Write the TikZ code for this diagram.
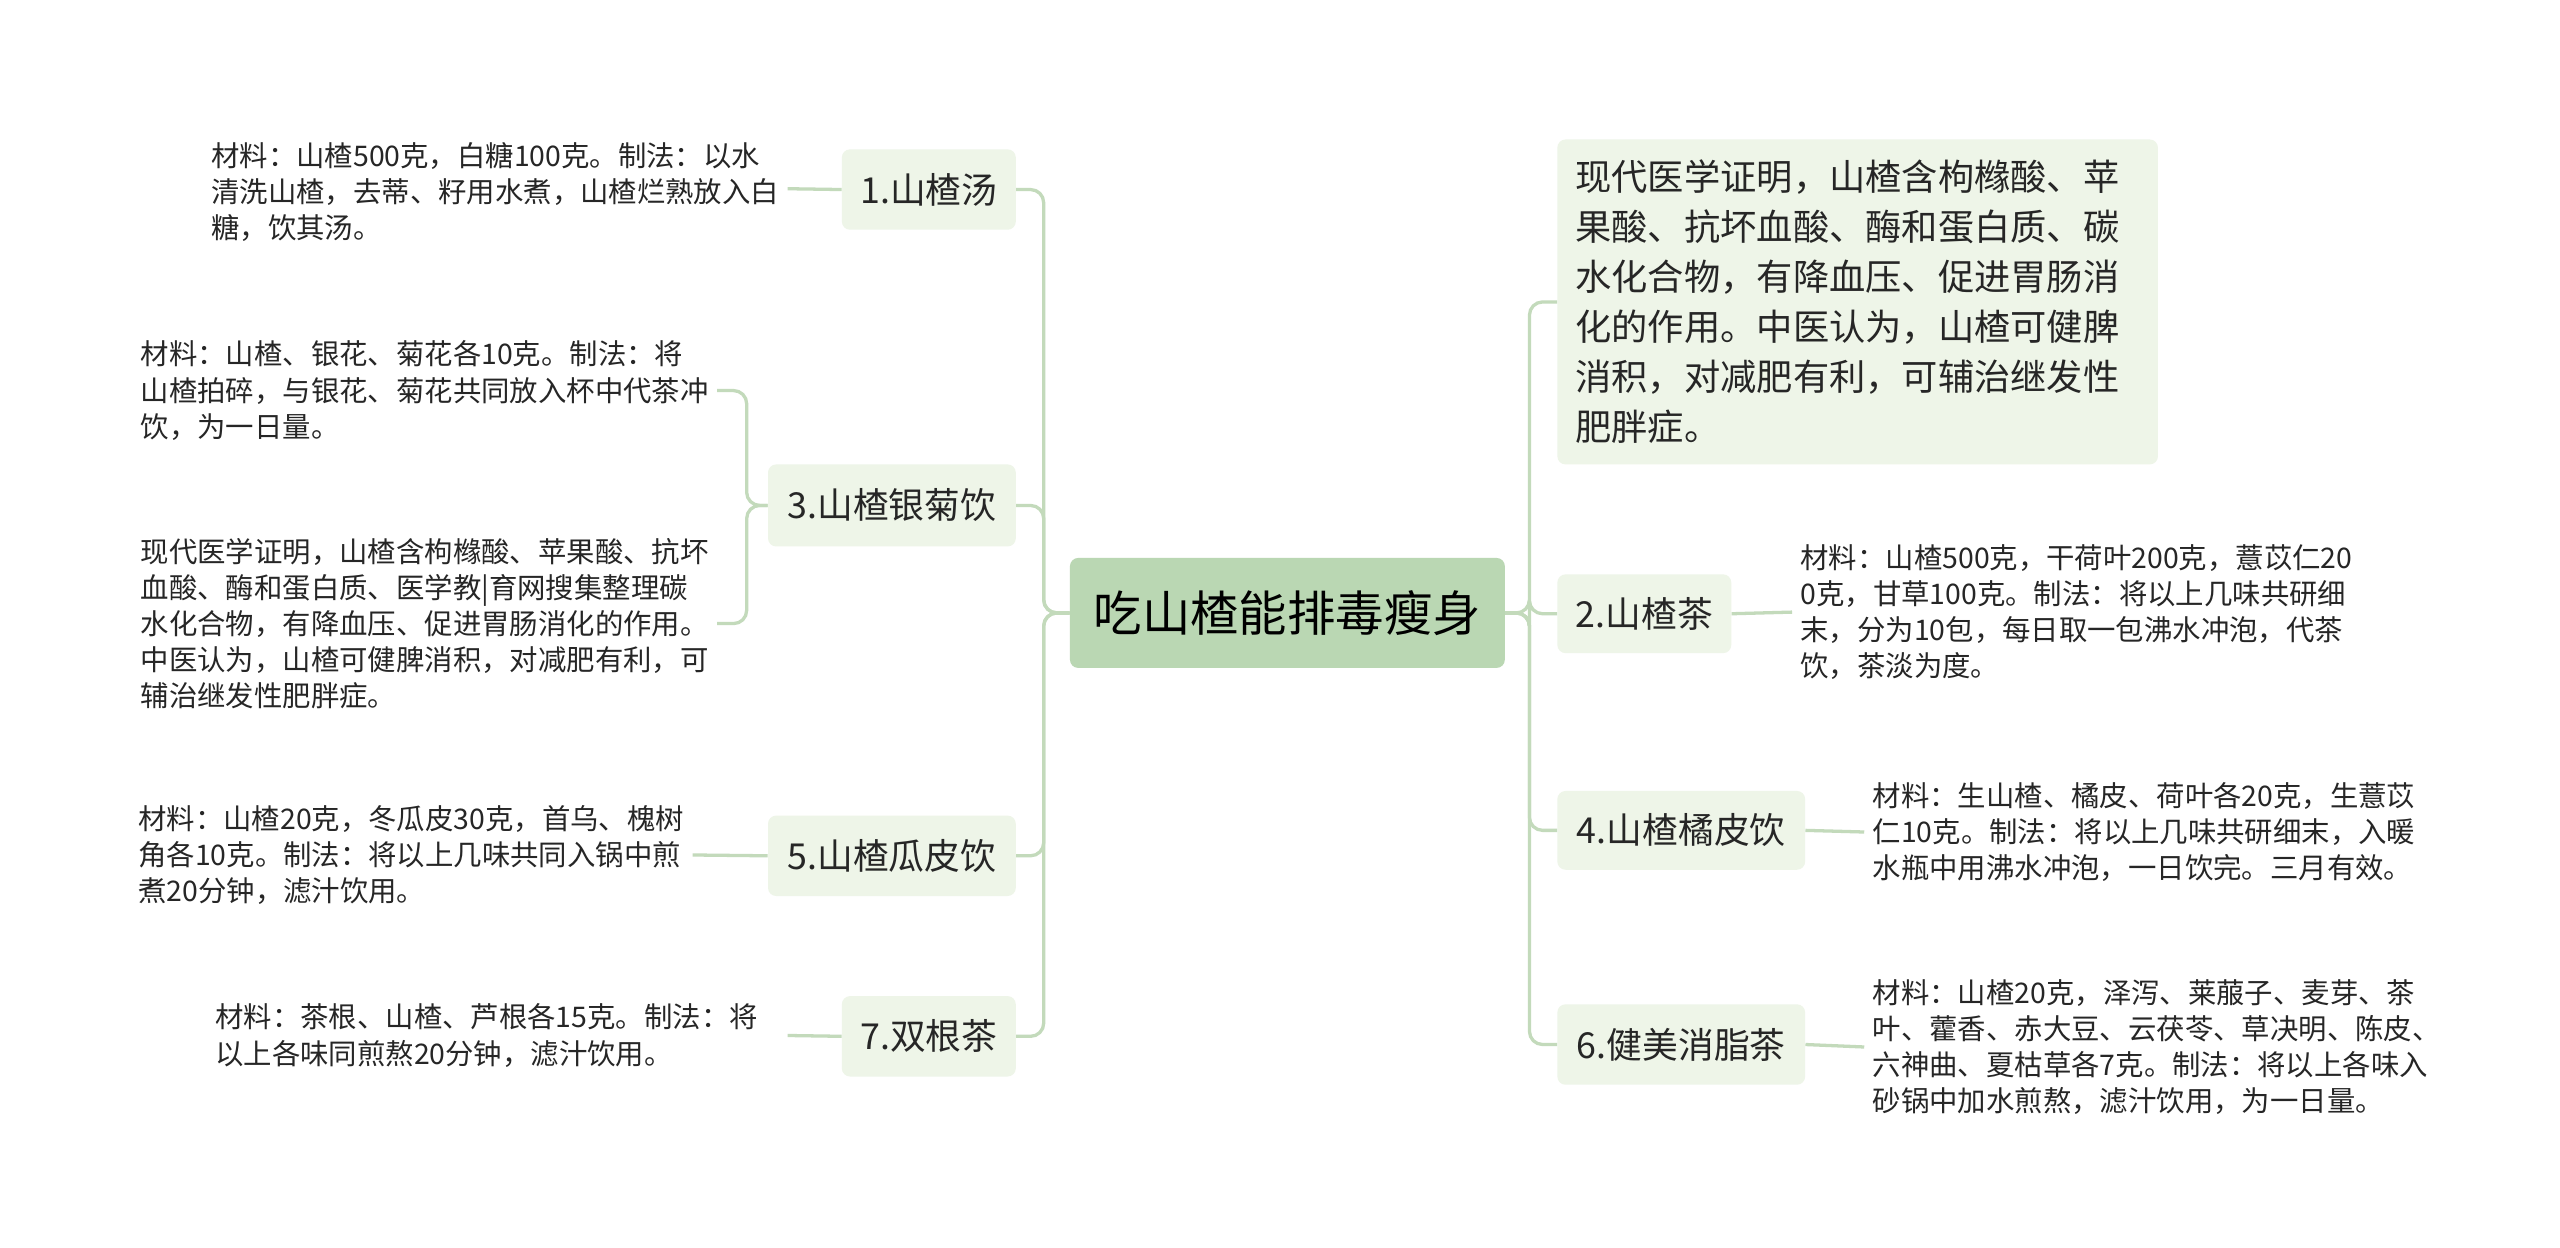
\documentclass[tikz,border=0pt]{standalone}
\usepackage{fontspec}
\setmainfont{Noto Sans CJK SC}
\begin{document}
\begin{tikzpicture}[x=1pt,y=-1pt,
 line/.style={draw=lc,line width=2pt,rounded corners=8pt},
 br/.style={fill=bf,rounded corners=5pt,inner sep=0pt,font=\fontsize{21.8}{24}\selectfont,text=black!85},
 leaf/.style={align=left,font=\fontsize{17.3}{22}\selectfont,text=black!85,inner sep=0pt}]
\definecolor{lc}{HTML}{C3DABB}
\definecolor{bf}{HTML}{EEF5E8}
\definecolor{cf}{HTML}{BAD7B3}
\useasboundingbox (0,0) rectangle (1560,760);
\fill[white] (0,0) rectangle (1560,760);
\node[fill=cf,rounded corners=5pt,minimum width=265pt,minimum height=67pt,font=\fontsize{29.5}{32}\selectfont] (c) at (784.5,373.5) {吃山楂能排毒瘦身};
% left branches
\node[br,minimum width=106pt,minimum height=49pt] (b1) at (566,115.5) {1.山楂汤};
\node[br,minimum width=151pt,minimum height=50pt] (b3) at (543.5,308) {3.山楂银菊饮};
\node[br,minimum width=151pt,minimum height=49pt] (b5) at (543.5,521.5) {5.山楂瓜皮饮};
\node[br,minimum width=106pt,minimum height=49pt] (b7) at (566,631.5) {7.双根茶};
% right branches
\node[br,minimum width=366pt,minimum height=198pt,align=left,font=\fontsize{22.1}{30.5}\selectfont,text width=344pt] (r0) at (1132,184) {现代医学证明，山楂含枸橼酸、苹\\果酸、抗坏血酸、酶和蛋白质、碳\\水化合物，有降血压、促进胃肠消\\化的作用。中医认为，山楂可健脾\\消积，对减肥有利，可辅治继发性\\肥胖症。};
\node[br,minimum width=106pt,minimum height=48pt] (r2) at (1002,374) {2.山楂茶};
\node[br,minimum width=151pt,minimum height=48pt] (r4) at (1024.5,506) {4.山楂橘皮饮};
\node[br,minimum width=151pt,minimum height=49pt] (r6) at (1024.5,636.5) {6.健美消脂茶};
% leaves
\node[leaf,anchor=east] (l1) at (475,117) {材料：山楂500克，白糖100克。制法：以水\\清洗山楂，去蒂、籽用水煮，山楂烂熟放入白\\糖，饮其汤。};
\node[leaf,anchor=east] (l3a) at (432,238) {材料：山楂、银花、菊花各10克。制法：将\\山楂拍碎，与银花、菊花共同放入杯中代茶冲\\饮，为一日量。};
\node[leaf,anchor=east] (l3b) at (432,380) {现代医学证明，山楂含枸橼酸、苹果酸、抗坏\\血酸、酶和蛋白质、医学教|育网搜集整理碳\\水化合物，有降血压、促进胃肠消化的作用。\\中医认为，山楂可健脾消积，对减肥有利，可\\辅治继发性肥胖症。};
\node[leaf,anchor=east] (l5) at (417,521) {材料：山楂20克，冬瓜皮30克，首乌、槐树\\角各10克。制法：将以上几味共同入锅中煎\\煮20分钟，滤汁饮用。};
\node[leaf,anchor=east] (l7) at (462,631) {材料：茶根、山楂、芦根各15克。制法：将\\以上各味同煎熬20分钟，滤汁饮用。};
\node[leaf,anchor=west] (m2) at (1097,373) {材料：山楂500克，干荷叶200克，薏苡仁20\\0克，甘草100克。制法：将以上几味共研细\\末，分为10包，每日取一包沸水冲泡，代茶\\饮，茶淡为度。};
\node[leaf,anchor=west] (m4) at (1141,507) {材料：生山楂、橘皮、荷叶各20克，生薏苡\\仁10克。制法：将以上几味共研细末，入暖\\水瓶中用沸水冲泡，一日饮完。三月有效。};
\node[leaf,anchor=west] (m6) at (1141,638) {材料：山楂20克，泽泻、莱菔子、麦芽、茶\\叶、藿香、赤大豆、云茯苓、草决明、陈皮、\\六神曲、夏枯草各7克。制法：将以上各味入\\砂锅中加水煎熬，滤汁饮用，为一日量。};
% connectors
\coordinate (lt) at (636,373.5);
\coordinate (rt) at (932,373.5);
\foreach \n in {b1,b3,b5,b7} \draw[line] (c.west) -- (lt) |- (\n.east);
\foreach \n in {r0,r2,r4,r6} \draw[line] (c.east) -- (rt) |- (\n.west);
\draw[line] (l1.east) ++(5,-2) -- (b1.west);
\coordinate (k3) at (455,308);
\draw[line] (b3.west) -- (k3) |- ([xshift=5pt]l3a.east);
\draw[line] (b3.west) -- (k3) |- ([xshift=5pt]l3b.east);
\draw[line] ([xshift=5pt]l5.east) -- (b5.west);
\draw[line] ([xshift=18pt]l7.east) -- (b7.west);
\draw[line] (r2.east) -- ([xshift=-5pt]m2.west);
\draw[line] (r4.east) -- ([xshift=-5pt]m4.west);
\draw[line] (r6.east) -- ([xshift=-5pt]m6.west);
\end{tikzpicture}
\end{document}
